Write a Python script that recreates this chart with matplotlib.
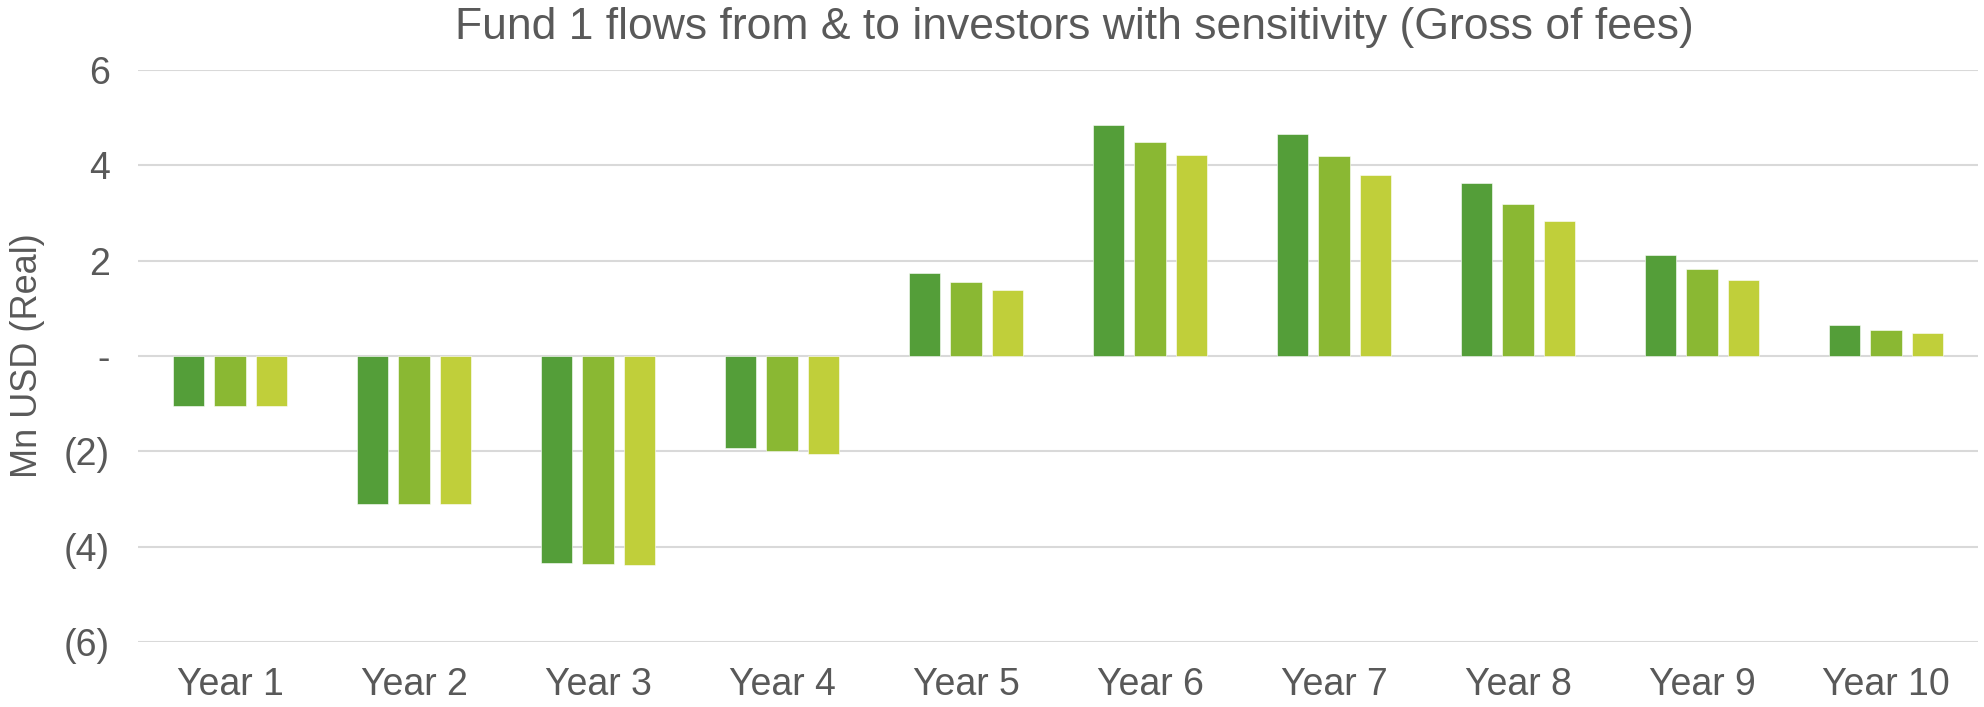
"""Fund 1 investor flows with sensitivity, grouped bars -> out.png"""

import matplotlib
matplotlib.use("Agg")
import matplotlib.pyplot as plt
import numpy as np
from matplotlib.ticker import FuncFormatter

years = ["Year 1", "Year 2", "Year 3", "Year 4", "Year 5",
         "Year 6", "Year 7", "Year 8", "Year 9", "Year 10"]
base = [-1.05, -3.11, -4.34, -1.92, 1.75, 4.84, 4.66, 3.62, 2.11, 0.65]
sens_mid = [-1.05, -3.11, -4.36, -1.99, 1.55, 4.50, 4.20, 3.18, 1.82, 0.55]
sens_low = [-1.05, -3.11, -4.38, -2.06, 1.38, 4.21, 3.79, 2.83, 1.59, 0.48]
yticks = [-6, -4, -2, 0, 2, 4, 6]

COLORS = ["#549e39", "#8ab833", "#c0cf3a"]
INK, GRID = "#595959", "#d9d9d9"

plt.rcParams["font.family"] = ["Liberation Sans", "DejaVu Sans"]

fig = plt.figure(figsize=(19.84, 7.07), dpi=100, facecolor="white")
ax = fig.add_axes([138 / 1984, 1 - 642 / 707, 1840 / 1984, 572 / 707])

x = np.arange(len(years))
w, step = 0.172, 0.225
for i, (vals, c) in enumerate(zip((base, sens_mid, sens_low), COLORS)):
    ax.bar(x + (i - 1) * step, vals, width=w, color=c, zorder=3,
           edgecolor="white", linewidth=0.4)

ax.set_xlim(-0.5, len(years) - 0.5)
ax.set_ylim(-6, 6)
ax.set_yticks(yticks)
ax.yaxis.set_major_formatter(FuncFormatter(
    lambda v, _: "-" if v == 0 else (f"({abs(v):.0f})" if v < 0 else f"{v:.0f}")))
ax.set_xticks(x)
ax.set_xticklabels(years)
ax.grid(axis="y", color=GRID, linewidth=1.5, zorder=0)
for s in ax.spines.values():
    s.set_visible(False)
ax.tick_params(length=0, colors=INK, labelsize=27)
ax.tick_params(axis="y", pad=20)
ax.tick_params(axis="x", pad=18)
ax.set_ylabel("Mn USD (Real)", color=INK, fontsize=26, labelpad=14)

fig.text(1074 / 1984, 1 - 28 / 707, "Fund 1 flows from & to investors with sensitivity (Gross of fees)",
         ha="center", va="center", color=INK, fontsize=32)

fig.savefig("out.png", dpi=100, facecolor="white")
